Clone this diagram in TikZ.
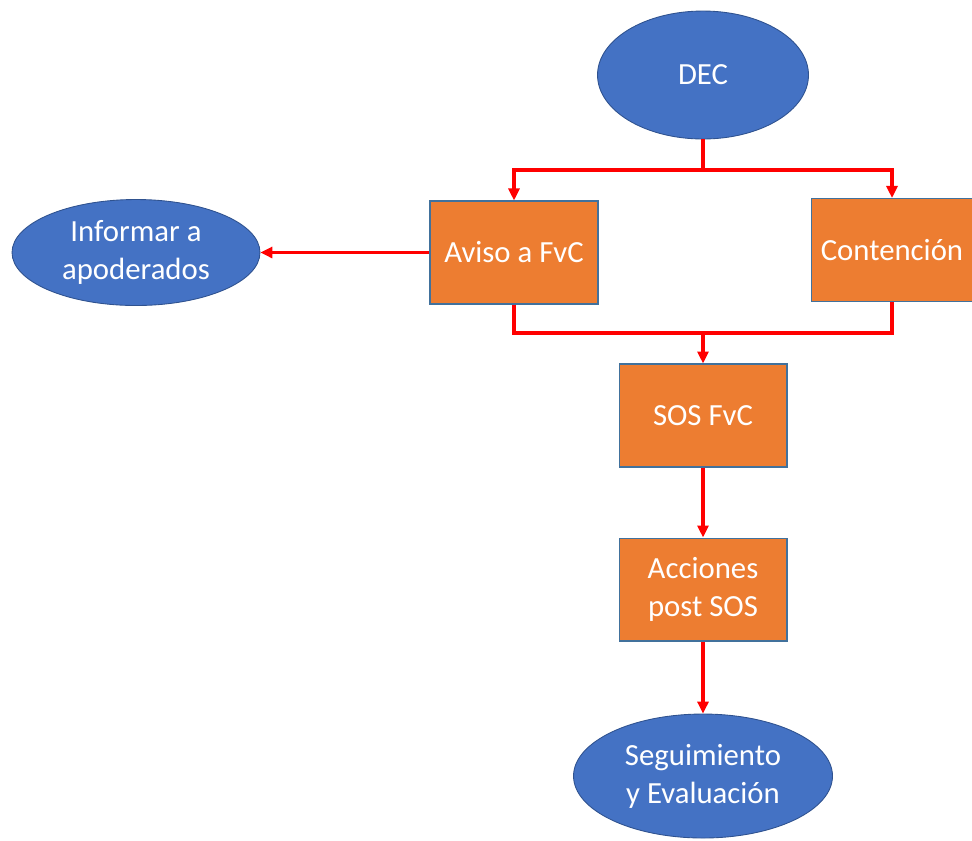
\documentclass[tikz,border=0pt]{standalone}
\usepackage{fontspec}
\setmainfont{Carlito}
\usetikzlibrary{shapes.geometric,arrows.meta}
\definecolor{ofblue}{HTML}{4472C4}
\definecolor{ofblueline}{HTML}{2F528F}
\definecolor{oforange}{HTML}{ED7D31}
\definecolor{ofboxline}{HTML}{41719C}
\begin{document}
\begin{tikzpicture}[x=0.02cm, y=-0.02cm,
    oval/.style={draw=ofblueline, line width=0.5pt, fill=ofblue, ellipse, inner sep=0pt,
      text=white, align=center, font=\fontsize{17.5}{21.5}\selectfont},
    box/.style={draw=ofboxline, line width=0.6pt, fill=oforange, rectangle, inner sep=0pt,
      minimum width=3.36cm, minimum height=2.06cm,
      text=white, align=center, font=\fontsize{17.5}{21.5}\selectfont},
    link/.style={draw=red, line width=2pt},
    arr/.style={link, -{Triangle[length=0.24cm, width=0.22cm]}}]
  \useasboundingbox (0,0) rectangle (972,840);
  \node[oval, minimum width=4.22cm, minimum height=2.56cm] (dec) at (703,75) {DEC};
  \node[box] (aviso) at (514,252.5) {Aviso a FvC};
  \node[box, minimum width=3.24cm] (cont) at (892,250) {Contención};
  \node[oval, minimum width=4.96cm, minimum height=2.12cm] (info) at (136,252.5) {Informar a\\apoderados};
  \node[box] (sos) at (703,415.5) {SOS FvC};
  \node[box] (acc) at (703,589.5) {Acciones\\post SOS};
  \node[oval, minimum width=5.18cm, minimum height=2.48cm] (seg) at (703,776) {Seguimiento\\y Evaluación};
  \coordinate (split) at (703,170);
  \coordinate (merge) at (703,333);
  \draw[link] (dec.south) -- (split);
  \draw[arr] (split) -| (aviso.north);
  \draw[arr] (split) -| (cont.north);
  \draw[arr] (aviso.west) -- (info.east);
  \draw[link] (aviso.south) |- (merge);
  \draw[link] (cont.south) |- (merge);
  \draw[arr] (merge) -- (sos.north);
  \draw[arr] (sos.south) -- (acc.north);
  \draw[arr] (acc.south) -- (seg.north);
\end{tikzpicture}
\end{document}
